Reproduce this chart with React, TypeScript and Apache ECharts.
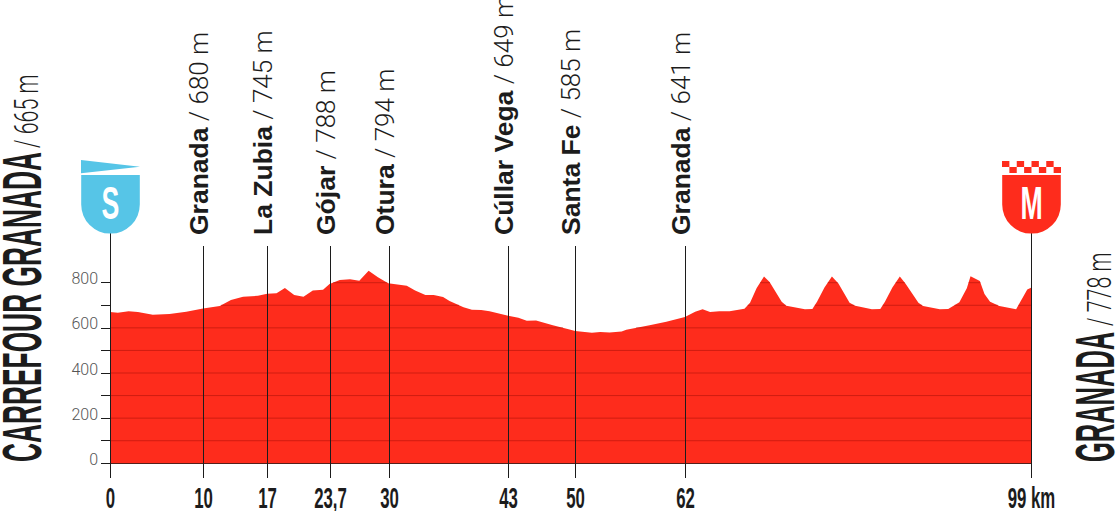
import React, { useEffect, useRef } from "react";
import * as echarts from "echarts";

const profileKm = [0,0.84,2,3,4.6,6.4,8.2,10,11.8,13,14.3,15.9,16.9,17.9,18.8,19.8,20.8,21.8,22.9,23.6,24.7,25.8,26.8,27.8,28.8,29.9,31.9,32.8,33.9,34.8,35.8,36.5,38,38.9,39.9,40.8,42.8,43.9,44.8,45.8,47.6,49.4,50,51.8,52.7,53.7,55,55.5,58,59.8,61.8,62.9,63.7,64.5,65.5,66.6,68.2,68.8,69.5,70.3,70.9,72.2,72.7,74.7,75.5,76,76.8,77.6,78.3,79.5,80.1,81.9,82.8,83.3,84.1,84.9,85.5,86.9,87.4,89.2,90.1,91.3,92.1,92.5,93.5,94,94.6,95.6,97.4,98.6,99];
const profileAlt = [670,667,674,670,658,661,671,686,697,723,738,742,751,753,776,745,738,765,769,794,812,815,809,853,824,798,787,765,745,745,737,719,691,680,679,673,654,645,632,633,611,593,586,578,582,579,584,592,611,627,648,671,682,670,674,673,685,711,775,827,803,716,698,682,683,716,779,827,797,711,698,682,683,716,779,827,797,711,697,682,683,713,775,829,807,750,716,697,682,770,778];

const townNames = ["Granada","La Zubia","Gójar","Otura","Cúllar Vega","Santa Fe","Granada"];
const townHeights = ["680 m","745 m","788 m","794 m","649 m","585 m","641 m"];
const townKm = [10.05,16.93,23.7,30.04,42.84,50.04,61.86];
const kmLabels = ["10","17","23,7","30","43","50","62"];
const gridLevels = [100,200,300,400,500,600,700,800];

const startName = "CARREFOUR GRANADA";
const startHeight = "/ 665 m";
const finishName = "GRANADA";
const finishHeight = "/ 778 m";
const startKm = 0;
const finishKm = 99;
const startLetter = "S";
const finishLetter = "M";
const startKmLabel = "0";
const finishKmLabel = "99 km";

const RED = "#FE2C1C";
const BLUE = "#56C5E7";
const INK = "#1c1c1c";
const SANS = '"Liberation Sans", Arial, sans-serif';

function underProfile(): any[] {
  const out: any[] = [];
  for (const level of gridLevels) {
    let on = profileAlt[0] >= level;
    if (on) out.push([profileKm[0], level]);
    for (let i = 1; i < profileKm.length; i++) {
      const a = profileAlt[i - 1], b = profileAlt[i];
      if ((a < level) !== (b < level)) {
        const k = profileKm[i - 1] + ((level - a) / (b - a)) * (profileKm[i] - profileKm[i - 1]);
        out.push([k, level]);
        if (on) out.push([null, null]);
        on = !on;
      }
    }
    if (on) out.push([profileKm[profileKm.length - 1], level]);
    out.push([null, null]);
  }
  return out;
}

function vLine(x: number, y1: number, y2: number) {
  return { type: "line", shape: { x1: x, y1, x2: x, y2 }, style: { stroke: INK, lineWidth: 1 }, silent: true };
}

function kmText(x: number, text: string) {
  return {
    type: "text", x, y: 497.5, scaleX: 0.56, scaleY: 1,
    style: { text, fill: INK, font: `bold 30px ${SANS}`, align: "center", verticalAlign: "middle" },
  };
}

function renderTown(_: any, api: any) {
  const i = api.value(1);
  const x = Math.floor(api.coord([api.value(0), 0])[0]) + 0.5;
  return {
    type: "group",
    children: [
      vLine(x, 246, 478),
      kmText(x, kmLabels[i]),
      {
        type: "text", x: x - 4.5, y: 235, rotation: Math.PI / 2,
        style: {
          text: `{b|${townNames[i]}}{r| / ${townHeights[i]}}`,
          align: "left", verticalAlign: "middle",
          rich: {
            b: { font: `bold 26.5px ${SANS}`, fill: INK },
            r: { font: `300 26px Roboto, ${SANS}`, fill: INK },
          },
        },
      },
    ],
  };
}

function shield(x: number, color: string, letter: string) {
  return [
    { type: "rect", shape: { x: x - 29.3, y: 175, width: 58.6, height: 58.6, r: [0, 0, 29, 29] }, style: { fill: color } },
    {
      type: "text", x, y: 203, scaleX: 0.58, scaleY: 1,
      style: { text: letter, fill: "#fff", font: `bold 46px ${SANS}`, align: "center", verticalAlign: "middle" },
    },
  ];
}

function renderStart(_: any, api: any) {
  const x = Math.floor(api.coord([api.value(0), 0])[0]) + 0.5;
  return {
    type: "group",
    children: [
      vLine(x, 233, 478),
      kmText(x, startKmLabel),
      { type: "polygon", shape: { points: [[x - 29.5, 160], [x + 29.5, 166.7], [x - 29.5, 173.3]] }, style: { fill: BLUE } },
      ...shield(x, BLUE, startLetter),
    ],
  };
}

function renderFinish(_: any, api: any) {
  const x = Math.floor(api.coord([api.value(0), 0])[0]) + 0.5;
  const squares: any[] = [];
  const w = 59 / 8;
  for (let c = 0; c < 8; c++) {
    squares.push({
      type: "rect",
      shape: { x: x - 29.5 + c * w, y: c % 2 === 0 ? 161 : 167, width: w, height: 6 },
      style: { fill: RED },
    });
  }
  return {
    type: "group",
    children: [vLine(x, 233, 478), kmText(x, finishKmLabel), ...squares, ...shield(x, RED, finishLetter)],
  };
}

function vText(text: string, x: number, y: number, font: string, scale: number) {
  return {
    type: "text", x, y, rotation: Math.PI / 2, scaleX: scale, scaleY: 1,
    style: { text, font, fill: INK, align: "left", verticalAlign: "middle" },
  };
}

export default function App() {
  const ref = useRef<HTMLDivElement>(null);
  useEffect(() => {
    document.body.style.margin = "0";
    const chart = echarts.init(ref.current!, undefined, { renderer: "svg" });
    chart.setOption({
      animation: false,
      backgroundColor: "#fff",
      grid: { left: 110, right: 85, top: 282.7, bottom: 47.7 },
      xAxis: {
        type: "value", min: 0, max: 99,
        axisLine: { show: true, onZero: false, lineStyle: { color: INK, width: 1 } },
        axisTick: { show: false }, axisLabel: { show: false }, splitLine: { show: false },
      },
      yAxis: {
        type: "value", min: 0, max: 800, interval: 100,
        axisLine: { show: false },
        axisTick: { show: true, length: 9, lineStyle: { color: INK, width: 1 } },
        splitLine: { show: false },
        axisLabel: {
          show: true, margin: 12, color: "#555", fontFamily: "Roboto", fontWeight: 300, fontSize: 16,
          verticalAlign: "bottom", lineHeight: 8,
          formatter: (v: number) => (v % 200 === 0 ? String(v) : ""),
        },
      },
      graphic: [
        vText(startName, 21, 462, `bold 56px ${SANS}`, 0.47),
        vText(startHeight, 27, 148, `300 34px Roboto, ${SANS}`, 0.63),
        vText(finishName, 1095, 462, `bold 56px ${SANS}`, 0.455),
        vText(finishHeight, 1100, 326, `300 34px Roboto, ${SANS}`, 0.63),
      ],
      series: [
        {
          type: "line", clip: false, silent: true, symbol: "none", z: 2,
          data: profileKm.map((k, i) => [k, profileAlt[i]]),
          lineStyle: { width: 0 }, areaStyle: { color: RED, opacity: 1 },
        },
        {
          type: "line", clip: false, silent: true, symbol: "none", z: 3, connectNulls: false,
          data: underProfile(),
          lineStyle: { width: 1, color: "rgba(150,10,5,0.45)" },
        },
        { type: "custom", silent: true, z: 4, clip: false, renderItem: renderTown, data: townKm.map((k, i) => [k, i]) },
        { type: "custom", silent: true, z: 4, clip: false, renderItem: renderStart, data: [[startKm, 0]] },
        { type: "custom", silent: true, z: 4, clip: false, renderItem: renderFinish, data: [[finishKm, 0]] },
      ],
    });
    return () => chart.dispose();
  }, []);
  return <div ref={ref} style={{ position: "absolute", left: 0, top: 0, width: 1116, height: 511 }} />;
}
